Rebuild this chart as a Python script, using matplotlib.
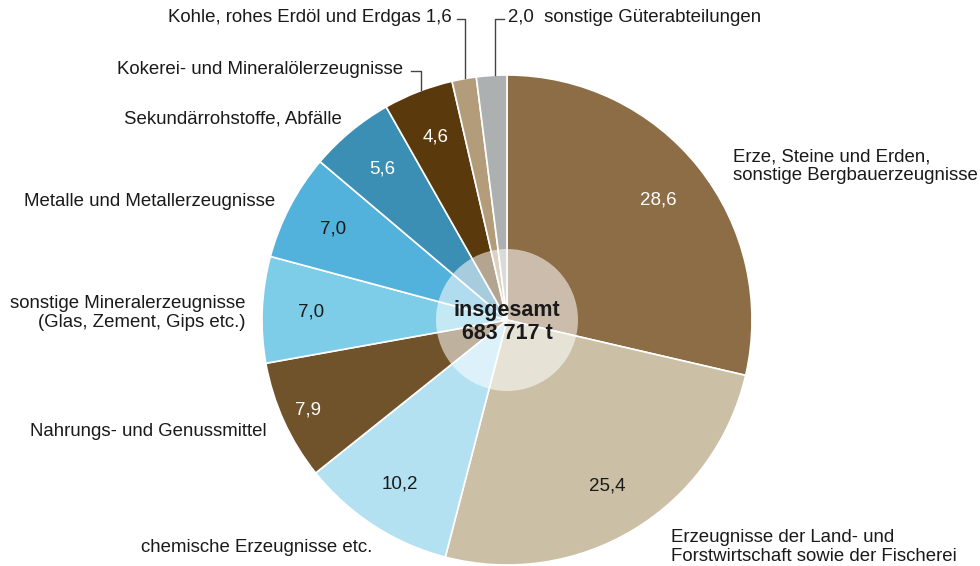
import matplotlib.pyplot as plt
import numpy as np

plt.rcParams['font.family'] = ['Liberation Sans', 'DejaVu Sans']

W, H = 980, 566

# Anteile in %, im Uhrzeigersinn ab 12 Uhr
categories = [
    'Erze, Steine und Erden,\nsonstige Bergbauerzeugnisse',
    'Erzeugnisse der Land- und\nForstwirtschaft sowie der Fischerei',
    'chemische Erzeugnisse etc.',
    'Nahrungs- und Genussmittel',
    'sonstige Mineralerzeugnisse\n(Glas, Zement, Gips etc.)',
    'Metalle und Metallerzeugnisse',
    'Sekundärrohstoffe, Abfälle',
    'Kokerei- und Mineralölerzeugnisse',
    'Kohle, rohes Erdöl und Erdgas',
    'sonstige Güterabteilungen',
]
shares = [28.6, 25.4, 10.2, 7.9, 7.0, 7.0, 5.6, 4.6, 1.6, 2.0]
value_labels = ['28,6', '25,4', '10,2', '7,9', '7,0', '7,0', '5,6', '4,6', '1,6', '2,0']
total_label = 'insgesamt\n683 717 t'

colors = ['#8c6d46', '#cbbfa6', '#b3e1f2', '#70532a', '#7dcde8',
          '#53b2dc', '#3b8fb4', '#5a3a0c', '#b29c7a', '#adb0b0']
value_colors = ['white', '#1a1a1a', '#1a1a1a', 'white', '#1a1a1a',
                '#1a1a1a', 'white', 'white', None, None]

# pie geometry in pixel space (y measured from top in the reference)
cx, cy, R = 507, 320, 245


def py(y):
    return H - y


fig = plt.figure(figsize=(W / 100, H / 100), dpi=100)
ax = fig.add_axes([0, 0, 1, 1])
ax.set_xlim(0, W)
ax.set_ylim(0, H)
ax.set_aspect('equal')
ax.axis('off')

wedges, _ = ax.pie(shares, colors=colors, startangle=90, counterclock=False,
                   center=(cx, py(cy)), radius=R,
                   wedgeprops=dict(edgecolor='white', linewidth=1.2))
ax.set_xlim(0, W)
ax.set_ylim(0, H)

# values inside the slices
dist = [0.79, 0.79, 0.80, 0.89, 0.80, 0.80, 0.80, 0.80]
for w, lab, col, d in zip(wedges, value_labels, value_colors, dist):
    ang = np.deg2rad((w.theta1 + w.theta2) / 2)
    x = cx + d * R * np.cos(ang)
    y = py(cy) + d * R * np.sin(ang)
    ax.text(x, y, lab, ha='center', va='center', fontsize=13.5, color=col)

# translucent centre disc
ax.add_patch(plt.Circle((cx, py(cy)), 71, color='white', alpha=0.55, lw=0))
ax.text(cx, py(cy + 2), total_label, ha='center', va='center', fontsize=15.5,
        fontweight='bold', color='#1a1a1a', linespacing=1.1)

tc = '#1a1a1a'
fs = 13.4
ls = 1.1
ax.text(733, py(166), categories[0], ha='left', va='center', fontsize=fs,
        color=tc, linespacing=ls)
ax.text(671, py(547), categories[1], ha='left', va='center', fontsize=fs,
        color=tc, linespacing=ls)
ax.text(372, py(547), categories[2], ha='right', va='center', fontsize=fs, color=tc)
ax.text(267, py(432), categories[3], ha='right', va='center', fontsize=fs, color=tc)
ax.text(245, py(313), categories[4], ha='right', va='center', fontsize=fs,
        color=tc, linespacing=ls, multialignment='right')
ax.text(275, py(202), categories[5], ha='right', va='center', fontsize=fs, color=tc)
ax.text(342, py(119), categories[6], ha='right', va='center', fontsize=fs, color=tc)
ax.text(403, py(70), categories[7], ha='right', va='center', fontsize=fs, color=tc)
ax.text(452, py(18), categories[8] + ' ' + value_labels[8], ha='right',
        va='center', fontsize=fs, color=tc)
ax.text(508, py(18), value_labels[9] + '  ' + categories[9], ha='left',
        va='center', fontsize=fs, color=tc)

# leader lines for the small slices
lc = '#444444'
ax.plot([411, 421, 421], [py(71), py(71), py(90)], color=lc, lw=1)
ax.plot([457, 465, 465], [py(19), py(19), py(78)], color=lc, lw=1)
ax.plot([504, 495, 495], [py(19), py(19), py(75)], color=lc, lw=1)

fig.savefig('out.png', dpi=100)
